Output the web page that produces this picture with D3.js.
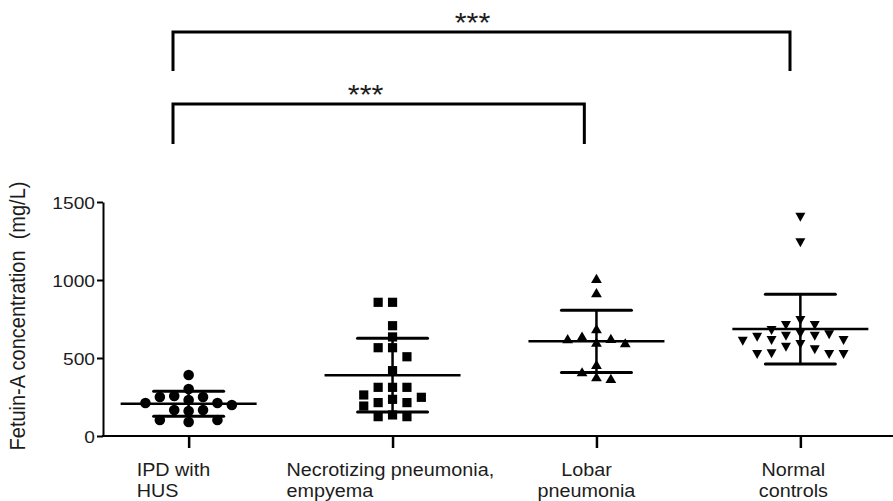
<!DOCTYPE html>
<html><head><meta charset="utf-8">
<script src="https://cdn.jsdelivr.net/npm/d3@7"></script>
<style>
body{margin:0;background:#fff}
svg{display:block}
text{font-family:"Liberation Sans",Arial,Helvetica,sans-serif;fill:#1c1c1c}
</style>
</head><body>
<svg id="chart" width="893" height="501"></svg>
<script>
// ---- data ----
const categories = ["IPD with HUS", "Necrotizing pneumonia, empyema", "Lobar pneumonia", "Normal controls"];
const categoryLines = [["IPD with", "HUS"], ["Necrotizing pneumonia,", "empyema"], ["Lobar", "pneumonia"], ["Normal", "controls"]];
const ipdHus = [391, 301, 250, 231, 212, 199, 212, 250, 256, 167, 167, 160, 103, 90, 103];
const necrotizing = [857, 857, 707, 635, 566, 566, 508, 419, 312, 312, 312, 248, 214, 214, 235, 263, 192, 135, 124, 124];
const lobar = [1006, 915, 684, 637, 620, 622, 594, 598, 455, 408, 365, 376];
const normalControls = [1406, 1242, 744, 712, 712, 680, 652, 643, 637, 643, 658, 611, 615, 615, 590, 556, 572, 526, 526, 526, 530];
const yTicks = [0, 500, 1000, 1500];
const yTitle = "Fetuin-A concentration  (mg/L)";
const comparisons = [
  {from: "IPD with HUS", to: "Normal controls", label: "***"},
  {from: "IPD with HUS", to: "Lobar pneumonia", label: "***"}
];

const groups = [ipdHus, necrotizing, lobar, normalControls];
const shapes = ["circle", "square", "triangle", "invtriangle"];

// ---- layout ----
const svg = d3.select("#chart");
const y = d3.scaleLinear().domain([0, 1500]).range([436, 202]);
const x = d3.scalePoint().domain(categories).range([103, 886]).padding(0.42);
const xb = d3.scalePoint().domain(categories).range([173, 790]);
const HS = 1.13; // horizontal glyph stretch of the reference

// Y axis
const yAxis = svg.append("g").attr("transform", "translate(103,0)")
  .call(d3.axisLeft(y).tickValues(yTicks).tickFormat(d3.format("d")).tickSize(6).tickSizeOuter(0).tickPadding(0));
yAxis.select(".domain").attr("stroke", "#000").attr("stroke-width", 2);
yAxis.selectAll(".tick line").attr("stroke", "#000").attr("stroke-width", 2);
yAxis.selectAll(".tick text")
  .attr("x", 0).attr("dy", "0.36em")
  .attr("transform", `translate(-8,0) scale(${HS},1)`)
  .style("font-size", "17px");

// X axis
svg.append("line").attr("x1", 102).attr("x2", 893).attr("y1", y(0)).attr("y2", y(0))
  .attr("stroke", "#000").attr("stroke-width", 2);
const xAxis = svg.append("g").attr("transform", `translate(0,${y(0)})`)
  .call(d3.axisBottom(x).tickSize(12).tickFormat(""));
xAxis.select(".domain").remove();
xAxis.selectAll(".tick line").attr("stroke", "#000").attr("stroke-width", 2.5);

const labelLayout = [
  {anchor: "start", dx: -52},
  {anchor: "start", dx: -106},
  {anchor: "middle", dx: -10},
  {anchor: "middle", dx: -7}
];
categories.forEach((c, i) => {
  categoryLines[i].forEach((line, j) => {
    svg.append("text")
      .attr("transform", `translate(${x(c) + labelLayout[i].dx},${476 + j * 21}) scale(${HS},1)`)
      .attr("text-anchor", labelLayout[i].anchor)
      .style("font-size", "17.5px")
      .text(line);
  });
});

// Y title
svg.append("text")
  .attr("transform", `translate(25,316) rotate(-90) scale(1,${HS})`)
  .attr("text-anchor", "middle")
  .style("font-size", "20px")
  .style("white-space", "pre")
  .text(yTitle);

// beeswarm placement
function swarm(values, cx, slot, minDy) {
  const placed = [];
  const out = new Array(values.length);
  const order = values.map((v, i) => i).sort((a, b) => values[b] - values[a]);
  order.forEach(i => {
    const py = y(values[i]);
    for (let k = 0; ; k++) {
      const s = k === 0 ? 0 : (k % 2 ? -Math.ceil(k / 2) : k / 2);
      if (!placed.some(p => p.s === s && Math.abs(p.py - py) < minDy)) {
        placed.push({s, py});
        out[i] = {x: cx + s * slot, y: py};
        break;
      }
    }
  });
  return out;
}

function shapePath(type) {
  if (type === "circle") return d3.symbol(d3.symbolCircle, 88)();
  if (type === "square") return "M-4.6,-4.6H4.6V4.6H-4.6Z";
  if (type === "triangle") return "M0,-5.2L5.4,4L-5.4,4Z";
  return "M-5,-4L5,-4L0,5Z";
}

groups.forEach((vals, i) => {
  const cx = x(categories[i]);
  const pts = swarm(vals, cx, 14.4, 10);
  const m = d3.mean(vals), sd = d3.deviation(vals);
  const g = svg.append("g");
  g.selectAll("path.pt").data(pts).join("path").attr("class", "pt")
    .attr("d", shapePath(shapes[i]))
    .attr("transform", d => `translate(${d.x},${d.y})`)
    .attr("fill", "#000");
  g.append("line").attr("x1", cx).attr("x2", cx).attr("y1", y(m + sd)).attr("y2", y(m - sd))
    .attr("stroke", "#000").attr("stroke-width", 2.5);
  g.append("line").attr("x1", cx - 68).attr("x2", cx + 68).attr("y1", y(m)).attr("y2", y(m))
    .attr("stroke", "#000").attr("stroke-width", 2.5);
  [m + sd, m - sd].forEach(v => {
    g.append("line").attr("x1", cx - 35).attr("x2", cx + 35).attr("y1", y(v)).attr("y2", y(v))
      .attr("stroke", "#000").attr("stroke-width", 3).attr("stroke-linecap", "round");
  });
});

// significance brackets
const bracketY = [[32, 71], [104, 144]];
comparisons.forEach((c, i) => {
  const x1 = xb(c.from), x2 = xb(c.to);
  const [top, bot] = bracketY[i];
  svg.append("path")
    .attr("d", `M${x1},${bot}V${top}H${x2}V${bot}`)
    .attr("fill", "none").attr("stroke", "#000").attr("stroke-width", 3)
    .attr("stroke-linejoin", "miter");
  svg.append("text")
    .attr("transform", `translate(${(x1 + x2) / 2 - 9 - i * 4},${top}) scale(${HS},1)`)
    .attr("text-anchor", "middle")
    .style("font-size", "27px")
    .text(c.label);
});
</script>
</body></html>
